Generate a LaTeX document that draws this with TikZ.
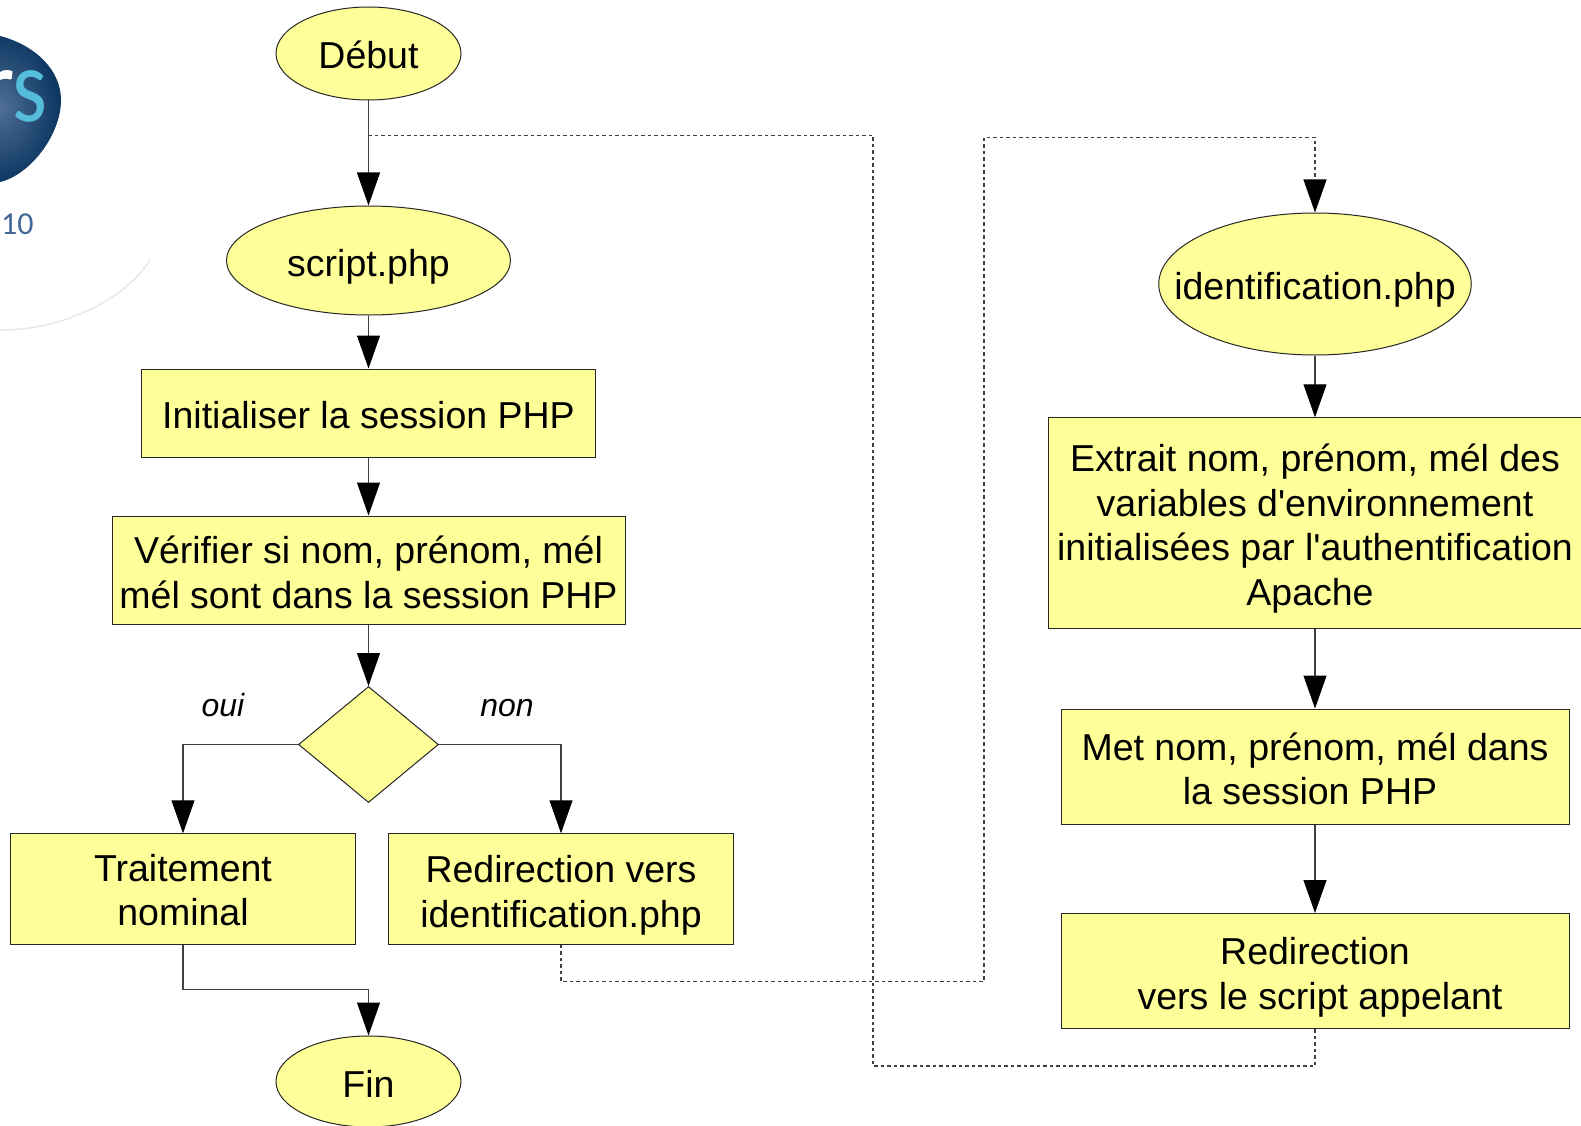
\documentclass[tikz,border=0pt]{standalone}
\usepackage{fontspec}
\setmainfont{Liberation Sans}
\newfontfamily\logofont{Carlito}
\usetikzlibrary{arrows.meta,shapes.geometric}
\definecolor{jaune}{HTML}{FFFF99}
\definecolor{bleulogo}{HTML}{0B3560}
\definecolor{bleuclair}{HTML}{4F6F96}
\definecolor{cyanlogo}{HTML}{55BCD9}
\definecolor{chiffre}{HTML}{44689A}
\newcommand{\tete}[1]{\rule{0pt}{#1pt}}
\tikzset{
  every node/.style={font=\fontsize{37.5}{44.8}\selectfont, inner sep=0pt, text=black},
  boite/.style={draw=black!85, line width=1pt, fill=jaune, align=center, text depth=0pt},
  ovale/.style={boite, ellipse},
  losange/.style={boite, diamond},
  fleche/.style={draw=black!75, line width=1.1pt, -{Triangle[length=33pt,width=23pt,color=black]}},
  pointille/.style={fleche, dash pattern=on 3.5pt off 3pt},
  trait/.style={draw=black!75, line width=1.1pt, dash pattern=on 3.5pt off 3pt},
  etiquette/.style={font=\fontsize{32}{38}\selectfont\itshape, anchor=base}
}
\begin{document}
\begin{tikzpicture}[x=1pt,y=-1pt]
\useasboundingbox (0,0) rectangle (1581,1126);
\fill[white] (0,0) rectangle (1581,1126);
\begin{scope}
\clip (0,0) rectangle (1581,1126);
\draw[black!9, line width=1.5pt] (-5,330) .. controls (60,332) and (125,300) .. (150,260);
\shade[inner color=bleuclair, outer color=bleulogo] (-60,110) .. controls (-60,60) and (-20,30) .. (0,36) .. controls (35,45) and (61,70) .. (61,100) .. controls (61,135) and (30,175) .. (0,182) .. controls (-30,185) and (-60,160) .. (-60,110) -- cycle;
\node[font=\logofont\fontsize{105}{105}\selectfont, text=white, anchor=base east] (lettreR) at (15,122) {r};
\node[font=\logofont\fontsize{105}{105}\selectfont, text=cyanlogo, anchor=base west, xscale=.85, transform shape] (lettreS) at (12,122) {s};
\node[font=\logofont\fontsize{32}{32}\selectfont, text=chiffre, anchor=base west] (annee) at (1,234) {10};
\end{scope}
\node[ovale, minimum width=185pt, minimum height=93pt] (debut) at (368.5,53.5) {\tete{31}Début};
\node[ovale, minimum width=284pt, minimum height=109pt] (script) at (368.5,260.5) {\makebox[0pt]{\tete{31}script.php}};
\node[boite, minimum width=453.5pt, minimum height=88pt] (init) at (368.5,413) {\tete{31}Initialiser la session PHP};
\node[boite, minimum width=513pt, minimum height=108pt] (verif) at (368.5,570) {\tete{32}Vérifier si nom, prénom, mél\\mél sont dans la session PHP};
\node[losange, minimum width=140pt, minimum height=116pt] (test) at (368.5,744.5) {};
\node[boite, minimum width=345pt, minimum height=110.5pt] (traitement) at (183,889) {\tete{29}Traitement\\nominal};
\node[boite, minimum width=345pt, minimum height=110.5pt] (redir) at (561,889) {\tete{32}Redirection vers\\identification.php};
\node[ovale, minimum width=185pt, minimum height=91pt] (fin) at (368.5,1081.5) {\tete{31}Fin};
\node[ovale, minimum width=312.5pt, minimum height=142pt] (ident) at (1315,284) {\makebox[0pt]{\tete{31}identification.php}};
\node[boite, minimum width=532.5pt, minimum height=210.5pt] (extrait) at (1315,523) {\tete{31}Extrait nom, prénom, mél des\\variables d\textquotesingle environnement\\initialisées par l\textquotesingle authentification\\Apache\hspace*{10pt}};
\node[boite, minimum width=508pt, minimum height=115pt] (met) at (1315,766.5) {\tete{32}Met nom, prénom, mél dans\\la session PHP\hspace*{10pt}};
\node[boite, minimum width=508pt, minimum height=115pt] (appelant) at (1315,971) {\tete{32}Redirection\\\hspace*{10pt}vers le script appelant};
\node[etiquette] (oui) at (223,716) {oui};
\node[etiquette] (non) at (507,716) {non};
\coordinate (joint) at (368.5,135.5);
\coordinate (coudeA) at (873,135.5);
\coordinate (coudeB) at (873,1066);
\coordinate (coudeC) at (561,981.5);
\coordinate (coudeD) at (984,981.5);
\coordinate (coudeE) at (984,137.5);
\coordinate (coudeF) at (1315,137.5);
\coordinate (coudeG) at (368.5,989.5);
\draw[fleche] (debut) -- (script);
\draw[fleche] (script) -- (init);
\draw[fleche] (init) -- (verif);
\draw[fleche] (verif) -- (test);
\draw[fleche] (test.west) -| (traitement.north);
\draw[fleche] (test.east) -| (redir.north);
\draw[fleche] (traitement.south) |- (coudeG) -- (fin.north);
\draw[fleche] (ident) -- (extrait);
\draw[fleche] (extrait) -- (met);
\draw[fleche] (met) -- (appelant);
\draw[pointille] (redir.south) -- (coudeC) -- (coudeD) -- (coudeE) -- (coudeF) -- (ident.north);
\draw[trait] (appelant.south) |- (coudeB) -- (coudeA) -- (joint);
\end{tikzpicture}
\end{document}
